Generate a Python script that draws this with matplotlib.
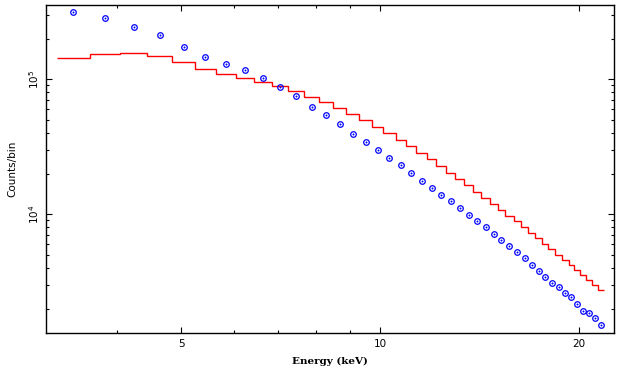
import matplotlib
matplotlib.use("Agg")
import matplotlib.pyplot as plt
from matplotlib.ticker import FixedLocator, NullFormatter, FixedFormatter
import numpy as np

# Energy bin edges (keV)
bin_edges = [3.24, 3.64, 4.04, 4.44, 4.85, 5.24, 5.65, 6.05, 6.45, 6.87,
             7.26, 7.67, 8.09, 8.49, 8.88, 9.30, 9.73, 10.10, 10.55, 10.96,
             11.33, 11.78, 12.15, 12.58, 12.99, 13.40, 13.83, 14.22, 14.67, 15.08,
             15.43, 15.93, 16.34, 16.75, 17.16, 17.57, 17.96, 18.39, 18.85, 19.28,
             19.66, 20.05, 20.47, 20.93, 21.37, 21.78]

# Model (red step line), counts per bin
model_counts = [143000, 154000, 156600, 148100, 134300, 118600, 108900, 101700, 95500, 88700,
                81900, 73600, 67500, 61300, 55050, 49700, 44100, 39800, 35340, 32060,
                28300, 25550, 22800, 20120, 18170, 16400, 14550, 13200, 11920, 10760,
                9714, 8874, 8010, 7270, 6640, 6026, 5505, 4971, 4586, 4211,
                3867, 3533, 3261, 2980, 2750]

# Data (blue points), counts per bin
data_counts = [315100, 283100, 245200, 211800, 173500, 145500, 129100, 116600, 102200, 88160,
               74830, 62880, 54120, 46420, 39540, 34500, 29800, 26120, 23100, 20330,
               17740, 15660, 13830, 12540, 11080, 9830, 8874, 8010, 7183, 6418,
               5794, 5231, 4746, 4233, 3802, 3415, 3083, 2894, 2599, 2428,
               2177, 1912, 1857, 1697, 1506]

x_ticks = [5, 10, 20]
x_tick_labels = ["5", "10", "20"]
y_ticks = [1e4, 1e5]
y_tick_labels = [r"$10^{4}$", r"$10^{5}$"]

edges = np.array(bin_edges)
centers = np.sqrt(edges[:-1] * edges[1:])
model = np.array(model_counts)

fig = plt.figure(figsize=(6.22, 3.71), dpi=100)
ax = fig.add_axes([0.0744, 0.1016, 0.9127, 0.8841])

ax.stairs(model, edges, baseline=None, color="#ff0000", linewidth=1.0, zorder=2)
ax.plot(centers, data_counts, linestyle="none", marker="o", markersize=4.0,
        markerfacecolor="none", markeredgecolor="#0000ff", markeredgewidth=0.9, zorder=3)
ax.plot(centers, data_counts, linestyle="none", marker="o", markersize=1.0,
        markerfacecolor="#0000ff", markeredgecolor="#0000ff", markeredgewidth=0.3, zorder=3)

ax.set_xscale("log")
ax.set_yscale("log")
ax.set_xlim(3.125, 22.58)
ax.set_ylim(1314, 353300)

ax.xaxis.set_major_locator(FixedLocator(x_ticks))
ax.xaxis.set_major_formatter(FixedFormatter(x_tick_labels))
ax.xaxis.set_minor_locator(FixedLocator([4, 6, 7, 8, 9]))
ax.xaxis.set_minor_formatter(NullFormatter())

ax.yaxis.set_major_locator(FixedLocator(y_ticks))
ax.yaxis.set_major_formatter(FixedFormatter(y_tick_labels))
yminor = [m * 10**e for e in (3, 4, 5) for m in range(2, 10)]
ax.yaxis.set_minor_locator(FixedLocator(yminor))
ax.yaxis.set_minor_formatter(NullFormatter())

ax.tick_params(which="both", direction="in", top=True, right=True, width=0.8, colors="black")
ax.tick_params(which="major", length=4.5, labelsize=7.5)
ax.tick_params(which="minor", length=2.2)
ax.tick_params(axis="x", which="major", pad=4)
ax.tick_params(axis="y", which="major", pad=4)
for lab in ax.get_yticklabels():
    lab.set_rotation(90)
    lab.set_va("center")

for sp in ax.spines.values():
    sp.set_linewidth(1.0)

ax.set_xlabel("Energy (keV)", fontsize=7.5, family="DejaVu Serif", fontweight="bold", labelpad=6)
ax.set_ylabel("Counts/bin", fontsize=7.5, labelpad=7)

fig.savefig("out.png", dpi=100)
